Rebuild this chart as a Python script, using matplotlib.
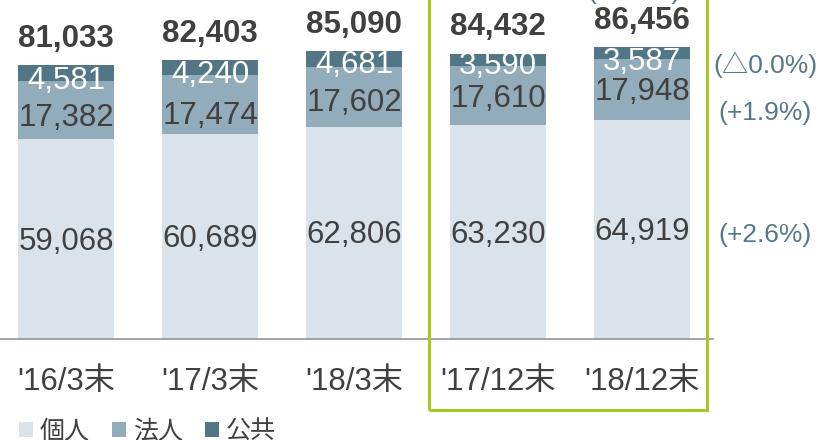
import matplotlib
matplotlib.use('Agg')
import matplotlib.pyplot as plt
from matplotlib.patches import Rectangle
import numpy as np

categories = ["'16/3末", "'17/3末", "'18/3末", "'17/12末", "'18/12末"]
series_names = ["個人", "法人", "公共"]
kojin = [59068, 60689, 62806, 63230, 64919]
hojin = [17382, 17474, 17602, 17610, 17948]
kokyo = [4581, 4240, 4681, 3590, 3587]
totals = [81033, 82403, 85090, 84432, 86456]
yoy_labels = ["(+2.6%)", "(+1.9%)", "(△0.0%)"]   # 個人, 法人, 公共
total_yoy = "(+2.4%)"

plt.rcParams['font.family'] = ['Liberation Sans', 'Noto Sans CJK JP', 'DejaVu Sans']

W, H = 822, 440
c_light, c_mid, c_dark = '#dae3e9', '#92acbb', '#537686'
txt = '#404040'
yoy_col = '#56798a'

fig = plt.figure(figsize=(W / 100, H / 100), dpi=100)
ax = fig.add_axes([0, (H - 339) / H, 713 / W, 339 / H])
ax.patch.set_alpha(0)

x = np.arange(len(categories))
bw = 96 / 144
k = np.array(kojin); h = np.array(hojin); p = np.array(kokyo)
b1 = ax.bar(x, k, width=bw, color=c_light)
b2 = ax.bar(x, h, width=bw, bottom=k, color=c_mid)
b3 = ax.bar(x, p, width=bw, bottom=k + h, color=c_dark)

ax.set_xlim(-66 / 144, (713 - 66) / 144)
ax.set_ylim(0, 339 / 0.003381)

for s in ['top', 'right', 'left']:
    ax.spines[s].set_visible(False)
ax.spines['bottom'].set_color('#8c8c8c')
ax.spines['bottom'].set_linewidth(1.1)
ax.set_yticks([])
ax.set_xticks(x, categories, fontsize=22.5, color=txt)
ax.tick_params(axis='x', length=0, pad=20)

# per-label vertical nudges (px, downward)
off_light = [2.5, 2.5, 2.5, 2.5, 2.5]
off_mid = [8.5, 11.5, 6.6, 4, 3]
off_dark = [8, 7.5, 6, 6.5, 9]

for i in range(len(x)):
    ax.annotate(f"{kojin[i]:,}", xy=(x[i], k[i] / 2), xytext=(0, -off_light[i] * 0.72),
                textcoords='offset points', ha='center', va='center', fontsize=22.5, color=txt)
    ax.annotate(f"{hojin[i]:,}", xy=(x[i], k[i] + h[i] / 2), xytext=(0, -off_mid[i] * 0.72),
                textcoords='offset points', ha='center', va='center', fontsize=22.5, color=txt)
    ax.annotate(f"{kokyo[i]:,}", xy=(x[i], k[i] + h[i] + p[i] / 2), xytext=(0, -off_dark[i] * 0.72),
                textcoords='offset points', ha='center', va='center', fontsize=22.5, color='white')
    ax.annotate(f"{totals[i]:,}", xy=(x[i], k[i] + h[i] + p[i]), xytext=(0, 13),
                textcoords='offset points', ha='center', va='baseline', fontsize=22.5,
                fontweight='bold', color=txt)

# YoY labels on the right
fig.text(765 / W, 1 - 235 / H, yoy_labels[0], ha='center', va='center', fontsize=19, color=yoy_col)
fig.text(765 / W, 1 - 113 / H, yoy_labels[1], ha='center', va='center', fontsize=19, color=yoy_col)
fig.text(765.5 / W, 1 - 65 / H, yoy_labels[2], ha='center', va='center', fontsize=19, color=yoy_col)
fig.text(633.5 / W, 1 + 0.5 / H, total_yoy, ha='center', va='baseline', fontsize=19, color=yoy_col)

# green highlight frame
fig.add_artist(Rectangle((429 / W, 30 / H), (707 - 429) / W, 1.0, transform=fig.transFigure,
                         fill=False, edgecolor='#a5c927', lw=2.2, clip_on=False))

ax.legend(handles=[b1, b2, b3], labels=series_names, loc='center left',
          bbox_to_anchor=(19 / W, 1 - 431.5 / H), bbox_transform=fig.transFigure,
          ncol=3, frameon=False, fontsize=18, handlelength=0.56, handleheight=0.56,
          handletextpad=0.28, columnspacing=0.88, borderpad=0, borderaxespad=0,
          labelcolor=txt)

fig.savefig('out.png', dpi=100)
